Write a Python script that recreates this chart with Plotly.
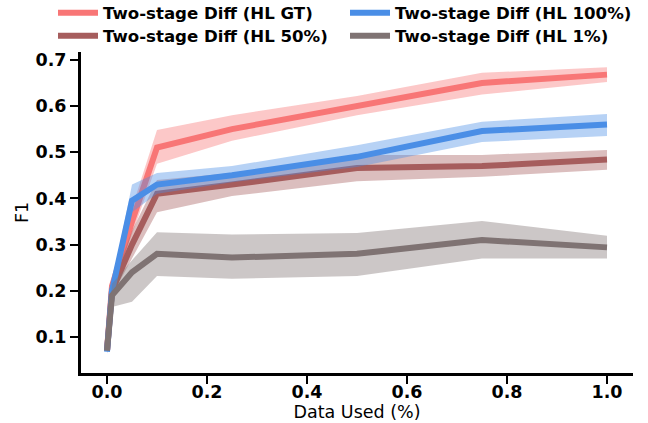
import plotly.graph_objects as go

data_used = [0, 0.01, 0.05, 0.1, 0.25, 0.5, 0.75, 1.0]

gt_mean = [0.07, 0.21, 0.35, 0.51, 0.55, 0.60, 0.65, 0.668]
gt_lo = [0.065, 0.20, 0.32, 0.475, 0.525, 0.58, 0.625, 0.652]
gt_hi = [0.075, 0.225, 0.38, 0.548, 0.58, 0.622, 0.672, 0.684]

hl100_mean = [0.068, 0.20, 0.395, 0.43, 0.45, 0.49, 0.546, 0.56]
hl100_lo = [0.063, 0.19, 0.37, 0.41, 0.435, 0.468, 0.522, 0.535]
hl100_hi = [0.072, 0.215, 0.43, 0.455, 0.47, 0.515, 0.566, 0.583]

hl50_mean = [0.07, 0.20, 0.30, 0.41, 0.43, 0.466, 0.47, 0.484]
hl50_lo = [0.065, 0.19, 0.27, 0.37, 0.405, 0.437, 0.447, 0.462]
hl50_hi = [0.075, 0.215, 0.33, 0.44, 0.455, 0.494, 0.494, 0.505]

hl1_mean = [0.07, 0.19, 0.24, 0.28, 0.272, 0.28, 0.31, 0.294]
hl1_lo = [0.065, 0.165, 0.176, 0.232, 0.226, 0.232, 0.27, 0.27]
hl1_hi = [0.075, 0.215, 0.266, 0.327, 0.322, 0.325, 0.351, 0.319]

x_ticks = [0, 0.2, 0.4, 0.6, 0.8, 1.0]
x_ticklabels = ["0.0", "0.2", "0.4", "0.6", "0.8", "1.0"]
y_ticks = [0.1, 0.2, 0.3, 0.4, 0.5, 0.6, 0.7]
y_ticklabels = ["0.1", "0.2", "0.3", "0.4", "0.5", "0.6", "0.7"]

# name, mean, lo, hi, line colour, band colour, legend id
series = [
    ("Two-stage Diff (HL GT)", gt_mean, gt_lo, gt_hi, "#F87676", "rgba(248,118,118,0.4)", "legend"),
    ("Two-stage Diff (HL 50%)", hl50_mean, hl50_lo, hl50_hi, "#A65D5D", "rgba(166,93,93,0.4)", "legend2"),
    ("Two-stage Diff (HL 100%)", hl100_mean, hl100_lo, hl100_hi, "#4A8EE6", "rgba(74,142,230,0.4)", "legend3"),
    ("Two-stage Diff (HL 1%)", hl1_mean, hl1_lo, hl1_hi, "#7F7373", "rgba(127,115,115,0.4)", "legend4"),
]

fig = go.Figure()
for name, m, lo, hi, col, fcol, leg in series:
    fig.add_trace(go.Scatter(
        x=data_used + data_used[::-1], y=hi + lo[::-1],
        fill="toself", fillcolor=fcol, line=dict(width=0),
        mode="lines", showlegend=False, hoverinfo="skip"))
    fig.add_trace(go.Scatter(
        x=data_used, y=m, mode="lines", name=name,
        line=dict(color=col, width=6), legend=leg))

legfont = dict(size=16.6, family="DejaVu Sans", weight="bold", color="black")


def leg(xpx, ycenter):
    return dict(
        orientation="h", xref="container", yref="container",
        x=xpx / 648, xanchor="left", y=1 - ycenter / 423, yanchor="middle",
        font=legfont, bgcolor="rgba(0,0,0,0)", borderwidth=0, itemwidth=40,
    )


fig.update_layout(
    width=648, height=423,
    margin=dict(l=81, r=15, t=52, b=50, autoexpand=False),
    plot_bgcolor="white", paper_bgcolor="white",
    font=dict(family="DejaVu Sans", color="black"),
    legend=leg(53, 13),
    legend2=leg(53, 36),
    legend3=leg(345, 13),
    legend4=leg(345, 36),
)

fig.update_xaxes(
    range=[-0.052, 1.052], tickvals=x_ticks, ticktext=x_ticklabels,
    showline=True, linecolor="black", linewidth=3, mirror=False,
    ticks="outside", ticklen=8, tickwidth=1.5, tickcolor="black",
    showgrid=False, zeroline=False, ticklabelstandoff=-7,
    tickfont=dict(size=17.5, family="DejaVu Sans", weight="bold"),
    title=dict(text="Data Used (%)", font=dict(size=17.5, family="DejaVu Sans"), standoff=5),
)
fig.update_yaxes(
    range=[0.022, 0.717], tickvals=y_ticks, ticktext=y_ticklabels,
    showline=True, linecolor="black", linewidth=3,
    ticks="outside", ticklen=8, tickwidth=1.5, tickcolor="black",
    showgrid=False, zeroline=False,
    tickfont=dict(size=17.5, family="DejaVu Sans", weight="bold"),
    title=dict(text="F1", font=dict(size=17.5, family="DejaVu Sans"), standoff=3),
)

fig.write_html("out.html", config={"displayModeBar": False},
               post_script="document.body.style.margin='0px';")
